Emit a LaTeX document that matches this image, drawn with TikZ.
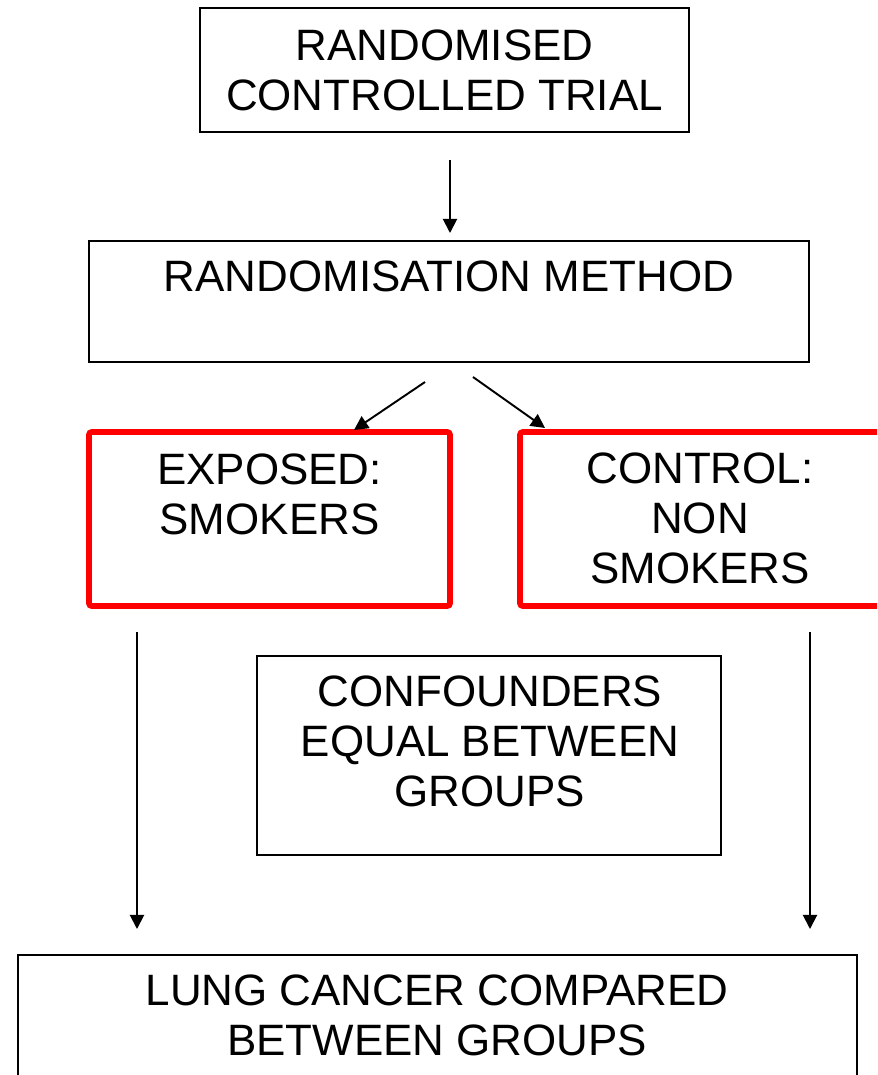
\documentclass[tikz,border=0pt]{standalone}
\usepackage{fontspec}
\setmainfont{Liberation Sans}
\usepackage{tikz}
\usetikzlibrary{arrows.meta,positioning}

\tikzset{
    box/.style={draw, line width=0.85pt, align=center, inner sep=0pt,
        font=\fontsize{25}{28.5}\selectfont},
    redbox/.style={box, draw=red, line width=3.2pt, rounded corners=1.5pt},
    txt/.style={align=center, inner sep=0pt, font=\fontsize{25}{28.5}\selectfont},
    arr/.style={line width=1.1pt, -{Triangle[length=8pt,width=8pt]}}
}

\begin{document}
\begin{tikzpicture}[x=0.02cm, y=-0.02cm]
    \clip (0, 0) rectangle (877, 1075);
    % boxes
    \node[box, minimum width=489*0.02cm, minimum height=124*0.02cm] (rct) at (444.5, 70) {RANDOMISED\\CONTROLLED TRIAL};
    \node[box, minimum width=720*0.02cm, minimum height=121*0.02cm] (method) at (449, 301.5) {RANDOMISATION METHOD\\\mbox{}};
    \node[redbox, minimum width=361*0.02cm, minimum height=174*0.02cm] (exposed) at (269.5, 519) {EXPOSED:\\SMOKERS\\\mbox{}};
    \node[redbox, minimum width=400*0.02cm, minimum height=174*0.02cm] (control) at (720, 519) {};
    \node[txt] (controltxt) at (700, 518) {CONTROL:\\NON\\SMOKERS};
    \node[box, minimum width=464*0.02cm, minimum height=199*0.02cm] (conf) at (489, 755.5) {};
    \node[txt] (conftxt) at (490, 741) {CONFOUNDERS\\EQUAL BETWEEN\\GROUPS};
    \node[box, minimum width=839*0.02cm, minimum height=125*0.02cm] (outcome) at (437.5, 1017.5) {};
    \node[txt] (outcometxt) at (437, 1015) {LUNG CANCER COMPARED\\BETWEEN GROUPS};
    % arrow ends
    \coordinate (a1) at (450, 160);
    \coordinate (a2) at (450, 233);
    \coordinate (b1) at (425, 382);
    \coordinate (b2) at (354, 430);
    \coordinate (c1) at (473, 377);
    \coordinate (c2) at (545, 428);
    \coordinate (d1) at (137, 632);
    \coordinate (d2) at (137, 929);
    \coordinate (e1) at (810, 632);
    \coordinate (e2) at (810, 929);
    \draw[arr] (a1) -- (a2);
    \draw[arr] (b1) -- (b2);
    \draw[arr] (c1) -- (c2);
    \draw[arr] (d1) -- (d2);
    \draw[arr] (e1) -- (e2);
\end{tikzpicture}
\end{document}
